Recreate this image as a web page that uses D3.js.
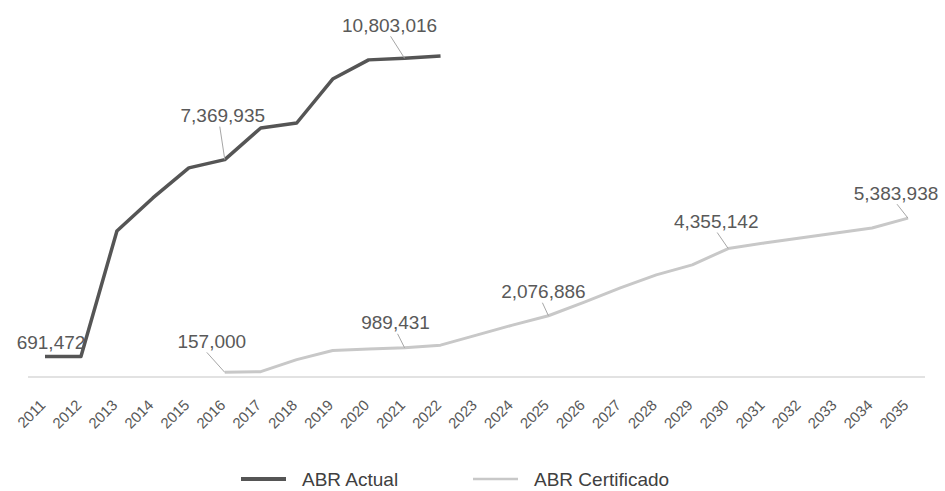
<!DOCTYPE html>
<meta charset="utf-8">
<title>ABR Actual vs ABR Certificado</title>
<script src="https://cdn.jsdelivr.net/npm/d3@7"></script>
<style>
body { margin:0; background:#fff; }
svg { font-family: "Liberation Sans", Arial, sans-serif; }
.axis text { fill:#595959; font-size:15px; }
.lbl { fill:#595959; font-size:19px; }
.leg { fill:#404040; font-size:19px; }
</style>
<svg width="945" height="491"></svg>
<script>

var years = d3.range(2011, 2036).map(String);

// ABR Actual 2011-2022
var actualYears = years.slice(0, 12);
var actualValues = [691472, 691472, 4950000, 6070000, 7090000, 7369935,
                    8440000, 8610000, 10100000, 10750000, 10803016, 10880000];

// ABR Certificado 2016-2035
var certYears = years.slice(5);
var certValues = [157000, 180000, 590000, 900000, 950000, 989431, 1080000,
                  1420000, 1760000, 2076886, 2540000, 3020000, 3460000, 3800000,
                  4355142, 4540000, 4710000, 4880000, 5050000, 5383938];

// data labels: series, year, label centre offset (dx,dy), leader top x offset (lx)
var labels = [
  {s:"a", year:"2011", dx:6,   dy:-14, lx:null},
  {s:"a", year:"2016", dx:-2,  dy:-44, lx:-5},
  {s:"a", year:"2021", dx:-15, dy:-33, lx:-14},
  {s:"c", year:"2016", dx:-13, dy:-31, lx:-18},
  {s:"c", year:"2021", dx:-9,  dy:-25, lx:-7},
  {s:"c", year:"2025", dx:-5,  dy:-24, lx:-6},
  {s:"c", year:"2030", dx:-12, dy:-27, lx:-11},
  {s:"c", year:"2035", dx:-12, dy:-25, lx:-11}
];

var svg = d3.select("svg");

var x = d3.scalePoint().domain(years).range([45, 908]),
    y = d3.scaleLinear().domain([0, 12000000]).range([377, 23]);

var actual = actualYears.map(function(d, i) { return {year:d, value:actualValues[i]}; });
var cert = certYears.map(function(d, i) { return {year:d, value:certValues[i]}; });

// baseline
svg.append("line")
    .attr("x1", x("2011") - 17).attr("x2", x("2035") + 17)
    .attr("y1", y(0)).attr("y2", y(0))
    .attr("stroke", "#d9d9d9").attr("stroke-width", 1.5);

var xAxis = svg.append("g")
    .attr("class", "axis")
    .attr("transform", "translate(0," + y(0) + ")")
    .call(d3.axisBottom(x).tickSize(0));
xAxis.select(".domain").remove();
xAxis.selectAll("text")
    .attr("text-anchor", "end")
    .attr("dy", null)
    .attr("y", null)
    .attr("transform", "translate(1,29) rotate(-45)");

var line = d3.line()
    .x(function(d) { return x(d.year); })
    .y(function(d) { return y(d.value); });

svg.append("path")
    .datum(cert)
    .attr("fill", "none")
    .attr("stroke", "#c8c8c8")
    .attr("stroke-width", 3)
    .attr("stroke-linejoin", "round")
    .attr("d", line);

svg.append("path")
    .datum(actual)
    .attr("fill", "none")
    .attr("stroke", "#555555")
    .attr("stroke-width", 3.5)
    .attr("stroke-linejoin", "round")
    .attr("d", line);

var fmt = d3.format(",");

labels.forEach(function(l) {
  var vals = l.s == "a" ? actual : cert;
  var p = vals.find(function(d) { return d.year == l.year; });
  var px = x(p.year), py = y(p.value);
  if (l.lx != null) {
    svg.append("line")
        .attr("x1", px).attr("y1", py)
        .attr("x2", px + l.lx).attr("y2", py + l.dy + 11)
        .attr("stroke", "#a6a6a6").attr("stroke-width", 1);
  }
  svg.append("text")
      .attr("class", "lbl")
      .attr("x", px + l.dx)
      .attr("y", py + l.dy)
      .attr("dy", "0.35em")
      .attr("text-anchor", "middle")
      .text(fmt(p.value));
});

// legend
var legend = [
  {name:"ABR Actual", color:"#555555", w:4, x:241},
  {name:"ABR Certificado", color:"#c8c8c8", w:2.5, x:473}
];
var lg = svg.append("g").attr("transform", "translate(0,479)");
lg.selectAll("line")
  .data(legend)
  .enter().append("line")
    .attr("x1", function(d) { return d.x; })
    .attr("x2", function(d) { return d.x + 45; })
    .attr("stroke", function(d) { return d.color; })
    .attr("stroke-width", function(d) { return d.w; });
lg.selectAll("text")
  .data(legend)
  .enter().append("text")
    .attr("class", "leg")
    .attr("x", function(d) { return d.x + 61; })
    .attr("dy", "0.35em")
    .text(function(d) { return d.name; });

</script>
